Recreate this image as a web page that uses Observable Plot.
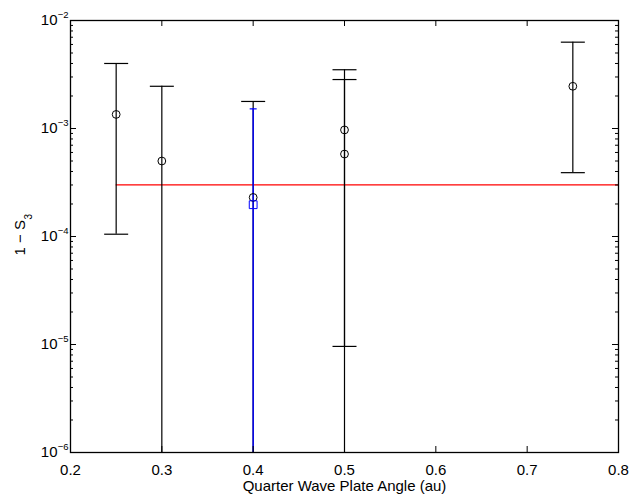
<!DOCTYPE html>
<html><head><meta charset="utf-8">
<script src="https://cdn.jsdelivr.net/npm/d3@7"></script>
<script src="https://cdn.jsdelivr.net/npm/@observablehq/plot@0.6"></script>
<style>body{margin:0;background:#fff}</style>
</head><body><div id="chart"></div>
<script>
// Black series (circles with error bars)
const angle = [0.25, 0.3, 0.4, 0.5, 0.5, 0.75];
const value = [1.35e-3, 5.0e-4, 2.3e-4, 9.7e-4, 5.8e-4, 2.46e-3];
const upper = [4.0e-3, 2.46e-3, 1.78e-3, 3.5e-3, 2.84e-3, 6.3e-3];
const lower = [1.05e-4, 1e-8, 1e-8, 9.6e-6, 1e-8, 3.9e-4]; // 1e-8 = below the axis
// Blue series (square with error bar)
const blueAngle = [0.4];
const blueValue = [1.97e-4];
const blueUpper = [1.52e-3];
const blueLower = [1e-8];
// Red reference line
const refLevel = 3.0e-4;
const refRange = [0.25, 0.8];
// Axes
const xTicks = [0.2, 0.3, 0.4, 0.5, 0.6, 0.7, 0.8];
const yTicks = [1e-6, 1e-5, 1e-4, 1e-3, 1e-2];
const yExp = ["−6", "−5", "−4", "−3", "−2"];
const yMinor = [];
for (const d of [1e-6, 1e-5, 1e-4, 1e-3]) for (let m = 2; m <= 9; m++) yMinor.push(m * d);

const black = angle.map((x, i) => ({x, y: value[i], lo: lower[i], hi: upper[i]}));
const blue = blueAngle.map((x, i) => ({x, y: blueValue[i], lo: blueLower[i], hi: blueUpper[i]}));

const W = 634, H = 496, mL = 70, mR = 16, mT = 20, mB = 44;
const pw = W - mL - mR, ph = H - mT - mB;
const hline = {draw(ctx, size) { const h = Math.sqrt(size / Math.PI); ctx.moveTo(-h, 0); ctx.lineTo(h, 0); }};
const font = "'Liberation Sans', Arial, Helvetica, sans-serif";

const chart = Plot.plot({
  width: W, height: H,
  marginLeft: mL, marginRight: mR, marginTop: mT, marginBottom: mB,
  style: {fontFamily: font, fontSize: "15px", background: "white", color: "black"},
  x: {domain: [0.2, 0.8], label: null},
  y: {type: "log", domain: [1e-6, 1e-2], label: null},
  marks: [
    // red reference
    Plot.ruleY([refLevel], {x1: refRange[0], x2: refRange[1], stroke: "#ff0000", strokeWidth: 1.3}),
    // black error bars
    Plot.ruleX(black, {x: "x", y1: "lo", y2: "hi", stroke: "black", strokeWidth: 1.2, clip: true}),
    Plot.dot(black, {x: "x", y: "hi", symbol: hline, r: 12, stroke: "black", strokeWidth: 1.2, clip: true}),
    Plot.dot(black, {x: "x", y: "lo", symbol: hline, r: 12, stroke: "black", strokeWidth: 1.2, clip: true}),
    // blue error bars
    Plot.ruleX(blue, {x: "x", y1: "lo", y2: "hi", stroke: "#0000ff", strokeWidth: 1.4, clip: true}),
    Plot.dot(blue, {x: "x", y: "hi", symbol: hline, r: 3.5, stroke: "#0000ff", strokeWidth: 1.2, clip: true}),
    Plot.dot(blue, {x: "x", y: "lo", symbol: hline, r: 3.5, stroke: "#0000ff", strokeWidth: 1.2, clip: true}),
    // markers
    Plot.dot(black, {x: "x", y: "y", r: 3.9, stroke: "black", fill: "none", strokeWidth: 1}),
    Plot.dot(blue, {x: "x", y: "y", symbol: "square", r: 4.4, stroke: "#0000ff", fill: "none", strokeWidth: 1}),
    // inward ticks
    Plot.tickY(yTicks, {y: d => d, insetRight: pw - 6, stroke: "black"}),
    Plot.tickY(yTicks, {y: d => d, insetLeft: pw - 6, stroke: "black"}),
    Plot.tickY(yMinor, {y: d => d, insetRight: pw - 3, stroke: "black"}),
    Plot.tickY(yMinor, {y: d => d, insetLeft: pw - 3, stroke: "black"}),
    Plot.tickX(xTicks, {x: d => d, insetTop: ph - 6, stroke: "black"}),
    Plot.tickX(xTicks, {x: d => d, insetBottom: ph - 6, stroke: "black"}),
    // axis labels
    Plot.axisX({ticks: xTicks, tickSize: 0, tickPadding: 12, tickFormat: d3.format(".1f"), fontSize: 15, label: null}),
    Plot.axisY({ticks: yTicks, tickSize: 0, tickPadding: 13, tickFormat: () => "10", fontSize: 15, label: null}),
    Plot.text(yTicks, {y: d => d, text: (d, i) => yExp[i], frameAnchor: "left", textAnchor: "end", dx: -2, dy: -6, fontSize: 9.5}),
    Plot.text(["Quarter Wave Plate Angle (au)"], {text: d => d, frameAnchor: "bottom", dy: 38, fontSize: 15}),
    Plot.text(["1 − S"], {text: d => d, frameAnchor: "left", textAnchor: "start", dx: -50, dy: 19, rotate: -90, fontSize: 15}),
    Plot.text(["3"], {text: d => d, frameAnchor: "left", textAnchor: "start", dx: -42, dy: -17, rotate: -90, fontSize: 10}),
    Plot.frame({stroke: "black", strokeWidth: 1.3})
  ]
});
document.getElementById("chart").append(chart);
</script>
</body></html>
